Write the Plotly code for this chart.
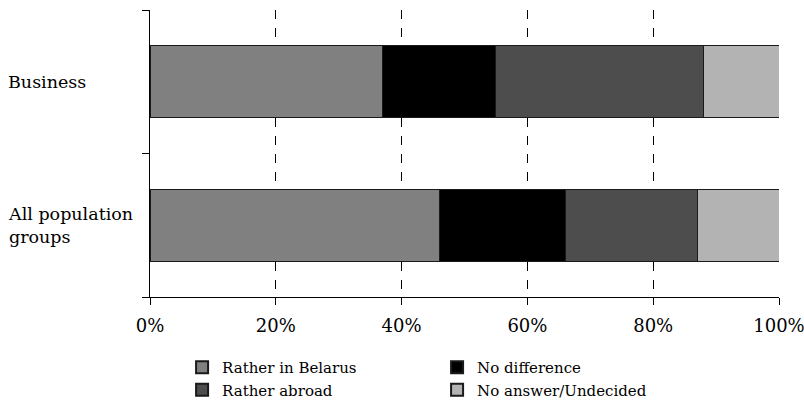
import plotly.graph_objects as go

# Survey groups (bottom to top on the chart)
groups = ["All population groups", "Business"]
group_labels = ["All population<br>groups", "Business"]

# Share of answers per group, percent
series_names = ["Rather in Belarus", "No difference", "Rather abroad", "No answer/Undecided"]
rather_in_belarus = [46, 37]
no_difference = [20, 18]
rather_abroad = [21, 33]
no_answer = [13, 12]
series_values = [rather_in_belarus, no_difference, rather_abroad, no_answer]
series_colors = ["#808080", "#000000", "#4d4d4d", "#b3b3b3"]

x_ticks = [0, 20, 40, 60, 80, 100]
x_tick_labels = ["0%", "20%", "40%", "60%", "80%", "100%"]

font_family = "DejaVu Serif"

fig = go.Figure()
for name, vals, color in zip(series_names, series_values, series_colors):
    fig.add_trace(go.Bar(
        name=name,
        y=groups,
        x=vals,
        orientation="h",
        marker=dict(color=color, line=dict(color="#1a1a1a", width=1)),
    ))

# Left-aligned group labels beside the y axis
for g, lbl in zip(groups, group_labels):
    fig.add_annotation(
        xref="paper", yref="y",
        x=-144 / 629, y=g,
        text=lbl,
        showarrow=False,
        xanchor="left",
        align="left",
        font=dict(family=font_family, size=17.5, color="black"),
    )

fig.update_layout(
    barmode="stack",
    bargap=0.5,
    width=804,
    height=408,
    margin=dict(l=150, r=25, t=10, b=111, autoexpand=False),
    paper_bgcolor="white",
    plot_bgcolor="white",
    font=dict(family=font_family, size=18, color="black"),
    xaxis=dict(
        range=[0, 100],
        tickvals=x_ticks,
        ticktext=x_tick_labels,
        showgrid=True,
        gridcolor="black",
        gridwidth=1,
        griddash="dash",
        showline=True,
        linecolor="black",
        linewidth=1,
        ticks="outside",
        ticklen=7,
        tickcolor="black",
        zeroline=False,
        ticklabelstandoff=5,
        ticklabeloverflow="allow",
        tickfont=dict(family=font_family, size=18),
    ),
    yaxis=dict(
        showline=True,
        linecolor="black",
        linewidth=1,
        ticks="outside",
        tickson="boundaries",
        ticklen=7,
        tickcolor="black",
        showgrid=False,
        showticklabels=False,
    ),
    legend=dict(
        orientation="h",
        x=0.051,
        xanchor="left",
        y=-0.188,
        yanchor="top",
        entrywidth=210,
        entrywidthmode="pixels",
        font=dict(family=font_family, size=15),
        traceorder="normal",
        itemsizing="constant",
        tracegroupgap=0,
    ),
)

fig.write_html("out.html")
